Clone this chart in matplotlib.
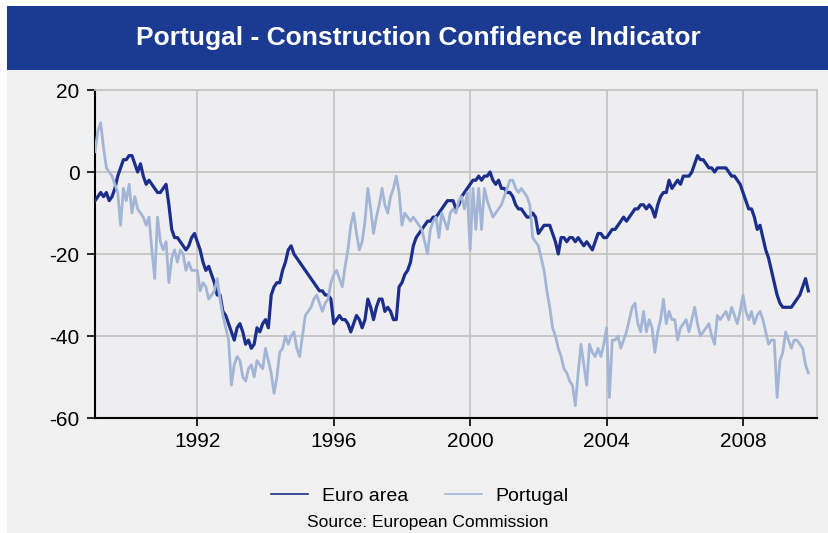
import numpy as np
import matplotlib
matplotlib.use("Agg")
import matplotlib.pyplot as plt
from matplotlib.patches import Rectangle

plt.rcParams['font.family'] = ['Liberation Sans', 'DejaVu Sans']
plt.rcParams['axes.unicode_minus'] = False

title = "Portugal - Construction Confidence Indicator"
source = "Source: European Commission"
series_names = ["Euro area", "Portugal"]
start_year = 1989
x_ticks = [1992, 1996, 2000, 2004, 2008]
y_ticks = [-60, -40, -20, 0, 20]

euro_area = [
    -7, -6, -5, -6, -5, -7, -6, -4, -1, 1, 3, 3,            # 1989
    4, 4, 2, 0, 2, -1, -3, -2, -3, -4, -5, -5,              # 1990
    -4, -3, -8, -14, -16, -16, -17, -18, -19, -18, -16, -15,  # 1991
    -17, -19, -22, -24, -23, -25, -27, -30, -30, -34, -35, -37,  # 1992
    -39, -41, -38, -37, -39, -42, -41, -43, -42, -38, -39, -37,  # 1993
    -36, -38, -30, -28, -27, -27, -24, -22, -19, -18, -20, -21,  # 1994
    -22, -23, -24, -25, -26, -27, -28, -29, -29, -30, -30, -31,  # 1995
    -37, -36, -35, -36, -36, -37, -39, -37, -35, -36, -38, -36,  # 1996
    -31, -33, -36, -33, -31, -31, -34, -33, -34, -36, -36, -28,  # 1997
    -27, -25, -24, -22, -18, -16, -15, -14, -13, -12, -12, -11,  # 1998
    -11, -10, -9, -8, -7, -7, -7, -9, -8, -6, -5, -4,       # 1999
    -3, -2, -2, -1, -2, -1, -1, 0, -2, -3, -2, -4,          # 2000
    -4, -5, -5, -6, -8, -9, -9, -10, -11, -11, -10, -11,    # 2001
    -15, -14, -13, -13, -13, -15, -17, -20, -16, -16, -17, -16,  # 2002
    -16, -17, -16, -17, -18, -17, -18, -19, -17, -15, -15, -16,  # 2003
    -16, -15, -14, -14, -13, -12, -11, -12, -11, -10, -9, -9,    # 2004
    -8, -8, -9, -8, -9, -11, -8, -6, -5, -5, -2, -4,        # 2005
    -3, -2, -3, -1, -1, -1, 0, 2, 4, 3, 3, 2,               # 2006
    1, 1, 0, 1, 1, 1, 1, 0, -1, -1, -2, -3,                 # 2007
    -5, -7, -9, -9, -11, -14, -13, -16, -19, -21, -24, -27,  # 2008
    -30, -32, -33, -33, -33, -33, -32, -31, -30, -28, -26, -29,  # 2009
]

portugal = [
    5, 10, 12, 6, 1, 0, -1, -3, -5, -13, -4, -7,            # 1989
    -3, -10, -6, -9, -10, -11, -13, -11, -19, -26, -11, -17,  # 1990
    -19, -17, -27, -21, -19, -22, -19, -20, -24, -22, -24, -24,  # 1991
    -24, -29, -27, -28, -31, -30, -29, -26, -31, -35, -38, -41,  # 1992
    -52, -47, -45, -46, -50, -51, -48, -47, -50, -46, -47, -48,  # 1993
    -43, -46, -49, -54, -50, -44, -43, -40, -42, -40, -39, -43,  # 1994
    -45, -40, -35, -34, -33, -31, -30, -32, -34, -32, -31, -27,  # 1995
    -25, -24, -26, -28, -23, -19, -13, -10, -15, -19, -17, -12,  # 1996
    -4, -9, -15, -11, -8, -4, -8, -10, -6, -4, -1, -5,      # 1997
    -13, -10, -11, -12, -11, -12, -13, -14, -17, -20, -14, -12,  # 1998
    -11, -16, -10, -12, -14, -10, -9, -10, -7, -6, -9, -5,  # 1999
    -19, -4, -14, -4, -14, -4, -7, -9, -11, -10, -9, -8,    # 2000
    -6, -4, -2, -2, -4, -5, -4, -5, -6, -8, -16, -17,       # 2001
    -18, -21, -24, -29, -33, -38, -40, -43, -45, -48, -49, -51,  # 2002
    -52, -57, -49, -42, -47, -52, -42, -44, -45, -43, -45, -42,  # 2003
    -38, -55, -41, -41, -40, -43, -41, -39, -36, -33, -32, -37,  # 2004
    -39, -34, -39, -36, -38, -44, -39, -36, -31, -37, -34, -36,  # 2005
    -36, -41, -38, -37, -36, -39, -36, -33, -37, -40, -39, -38,  # 2006
    -37, -40, -42, -35, -36, -35, -34, -36, -33, -35, -37, -34,  # 2007
    -30, -34, -36, -34, -37, -35, -34, -36, -39, -42, -41, -41,  # 2008
    -55, -46, -44, -39, -41, -43, -41, -41, -42, -43, -47, -49,  # 2009
]

t = start_year + np.arange(len(euro_area)) / 12.0

W, H = 829, 533
fig = plt.figure(figsize=(W / 100, H / 100), dpi=100, facecolor='white')

# light grey panel and blue title banner (behind the axes)
fig.patches.append(Rectangle((7 / W, 0), 1 - 7 / W, (H - 70) / H, transform=fig.transFigure,
                             facecolor='#f0f0f0', edgecolor='none', zorder=-10))
fig.patches.append(Rectangle((7 / W, (H - 70) / H), 1 - 7 / W, 64 / H, transform=fig.transFigure,
                             facecolor='#1b3b92', edgecolor='none', zorder=-10))
fig.text((7 + W) / 2 / W, (H - 38) / H, title, color='white', fontsize=19, fontweight='bold',
         ha='center', va='center')

ax = fig.add_axes([95 / W, (H - 418) / H, (817 - 95) / W, (418 - 90) / H])
ax.set_facecolor('#eeeef0')

ax.plot(t, euro_area, color='#1b2e8c', lw=2.3, label=series_names[0], zorder=3)
ax.plot(t, portugal, color='#a3b5d6', lw=2.0, label=series_names[1], zorder=4)

ax.set_xlim(1989, 2010.17)
ax.set_ylim(-60, 20)
ax.set_xticks(x_ticks)
ax.set_yticks(y_ticks)
ax.tick_params(axis='both', labelsize=15, length=6, width=1.2, direction='out', colors='black')
ax.tick_params(axis='y', pad=5)
ax.tick_params(axis='x', pad=4)
ax.grid(True, color='#c4c4c4', lw=1.3)
ax.set_axisbelow(True)
for s in ['top', 'right']:
    ax.spines[s].set_color('#c4c4c4')
    ax.spines[s].set_linewidth(1.3)
for s in ['left', 'bottom']:
    ax.spines[s].set_color('black')
    ax.spines[s].set_linewidth(1.5)

leg = fig.legend(loc='center', bbox_to_anchor=(420 / W, (H - 496) / H), ncol=2, frameon=False,
                 fontsize=14, handlelength=1.9, columnspacing=1.9, handletextpad=0.7)
for line in leg.get_lines():
    line.set_linewidth(1.2)

fig.text(428 / W, (H - 523) / H, source, fontsize=12.5, ha='center', va='center')

fig.savefig('out.png', dpi=100, facecolor=fig.get_facecolor())
